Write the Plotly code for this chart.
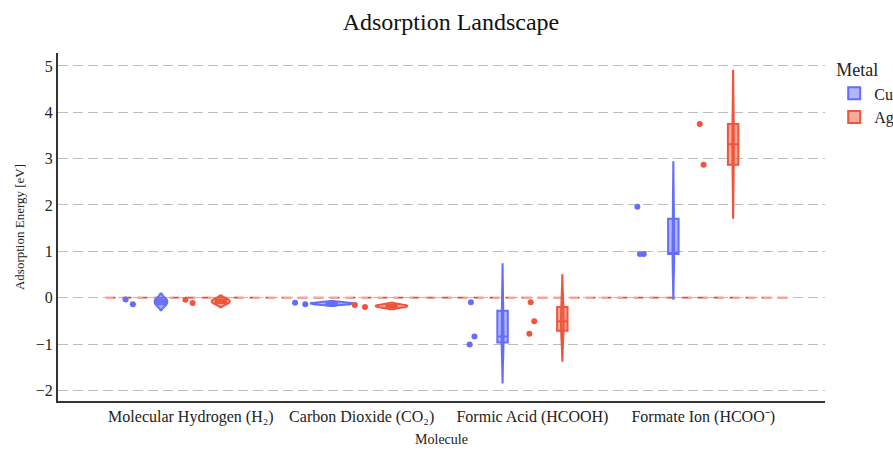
import plotly.graph_objects as go

categories = ["Molecular Hydrogen (H₂)", "Carbon Dioxide (CO₂)",
              "Formic Acid (HCOOH)", "Formate Ion (HCOO⁻)"]
metals = ["Cu", "Ag"]
colors = {"Cu": "#636efa", "Ag": "#EF553B"}

cu_h2 = [-0.04, -0.14]
cu_co2 = [-0.11, -0.14]
cu_hcooh = [-0.10, -0.84, -1.01]
cu_hcoo = [1.96, 0.94, 0.94]

ag_h2 = [-0.045, -0.115]
ag_co2 = [-0.16, -0.20]
ag_hcooh = [-0.10, -0.51, -0.78]
ag_hcoo = [3.75, 2.87]

data = {
    "Cu": [cu_h2, cu_co2, cu_hcooh, cu_hcoo],
    "Ag": [ag_h2, ag_co2, ag_hcooh, ag_hcoo],
}

FONT = "Liberation Serif, Times New Roman, serif"

fig = go.Figure()
for m in metals:
    xs, ys = [], []
    for cat, vals in zip(categories, data[m]):
        xs += [cat] * len(vals)
        ys += vals
    fig.add_trace(go.Violin(
        x=xs, y=ys, name=m, legendgroup=m, offsetgroup=m,
        scalegroup="all", box_visible=True, points="all",
        line_color=colors[m], marker_color=colors[m],
    ))

fig.add_shape(type="line", xref="x", yref="y",
              x0=-0.5, x1=len(categories) - 0.5, y0=0, y1=0,
              line=dict(color="#e5483a", width=1.6, dash="10px,6px"),
              layer="below")

fig.update_layout(
    width=893, height=454,
    margin=dict(l=58, r=68, t=53, b=53, autoexpand=False),
    violinmode="group",
    paper_bgcolor="white", plot_bgcolor="white",
    font=dict(family=FONT, size=16, color="#222"),
    title=dict(text="Adsorption Landscape", x=0.505, xanchor="center",
               y=0.952, yanchor="middle",
               font=dict(family=FONT, size=24, color="#111")),
    legend=dict(title=dict(text="Metal", font=dict(size=18)),
                font=dict(size=16), x=1.012, y=1.0, xanchor="left", yanchor="top",
                tracegroupgap=0),
)
fig.update_xaxes(
    title=dict(text="Molecule", font=dict(size=14), standoff=9),
    range=[-0.778, 3.713], showgrid=False, zeroline=False,
    showline=True, linecolor="#333", linewidth=2, ticks="",
    tickfont=dict(size=16),
)
fig.update_yaxes(
    title=dict(text="Adsorption Energy [eV]", font=dict(size=13), standoff=8),
    range=[-2.23, 5.28], dtick=1, showgrid=True, gridcolor="#bdbdbd",
    gridwidth=1, griddash="10px,5px", zeroline=False,
    showline=True, linecolor="#333", linewidth=2, ticks="",
    tickfont=dict(size=16),
)

fig.write_html("out.html")
